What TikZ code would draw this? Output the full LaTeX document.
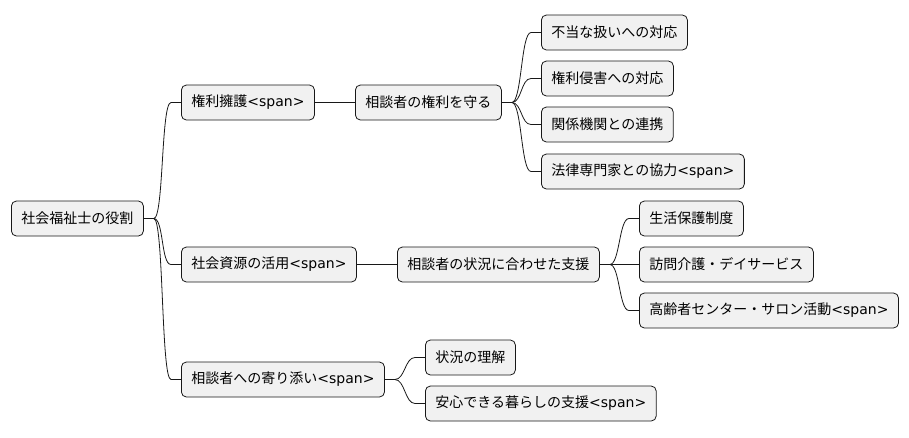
\documentclass[tikz,border=0pt]{standalone}
\usepackage{fontspec}
\setmainfont{DejaVu Sans}
\newfontfamily\cjk{Noto Sans CJK JP}
\usetikzlibrary{calc}
\definecolor{boxfill}{HTML}{F1F1F1}
\definecolor{edge}{HTML}{181818}
\newcommand\conn[2]{\draw[conn] (#1.east) -- ++(10,0) .. controls +(10,0) and ($(#2.west)+(-20,0)$) .. ($(#2.west)+(-10,0)$) -- (#2.west);}
\begin{document}
\begin{tikzpicture}[x=1pt,y=-1pt,
  box/.style={draw=edge, fill=boxfill, rounded corners=5pt, line width=0.8pt,
    minimum height=35pt, inner xsep=10pt, inner ysep=0pt, anchor=west,
    font=\fontsize{14}{16}\selectfont},
  conn/.style={draw=edge, line width=0.8pt}]
\useasboundingbox (0,0) rectangle (909,437);
\node[box] (root) at (11,218.5) {\cjk 社会福祉士の役割};
\node[box] (a) at (181,102.5) {{\cjk 権利擁護}<span>};
\node[box] (b) at (181,264.5) {{\cjk 社会資源の活用}<span>};
\node[box] (c) at (181,379.5) {{\cjk 相談者への寄り添い}<span>};
\node[box] (a1) at (355,102.5) {\cjk 相談者の権利を守る};
\node[box] (b1) at (397,264.5) {\cjk 相談者の状況に合わせた支援};
\node[box] (c1) at (425,357.5) {\cjk 状況の理解};
\node[box] (c2) at (425,403.5) {{\cjk 安心できる暮らしの支援}<span>};
\node[box] (a11) at (541,32.5) {\cjk 不当な扱いへの対応};
\node[box] (a12) at (541,78.5) {\cjk 権利侵害への対応};
\node[box] (a13) at (541,124.5) {\cjk 関係機関との連携};
\node[box] (a14) at (541,171.5) {{\cjk 法律専門家との協力}<span>};
\node[box] (b11) at (639,218.5) {\cjk 生活保護制度};
\node[box] (b12) at (639,264.5) {\cjk 訪問介護・デイサービス};
\node[box] (b13) at (639,310.5) {{\cjk 高齢者センター・サロン活動}<span>};
\conn{root}{a}
\conn{root}{b}
\conn{root}{c}
\draw[conn] (a) -- (a1);
\draw[conn] (b) -- (b1);
\conn{c}{c1}
\conn{c}{c2}
\conn{a1}{a11}
\conn{a1}{a12}
\conn{a1}{a13}
\conn{a1}{a14}
\conn{b1}{b11}
\conn{b1}{b12}
\conn{b1}{b13}
\end{tikzpicture}
\end{document}
